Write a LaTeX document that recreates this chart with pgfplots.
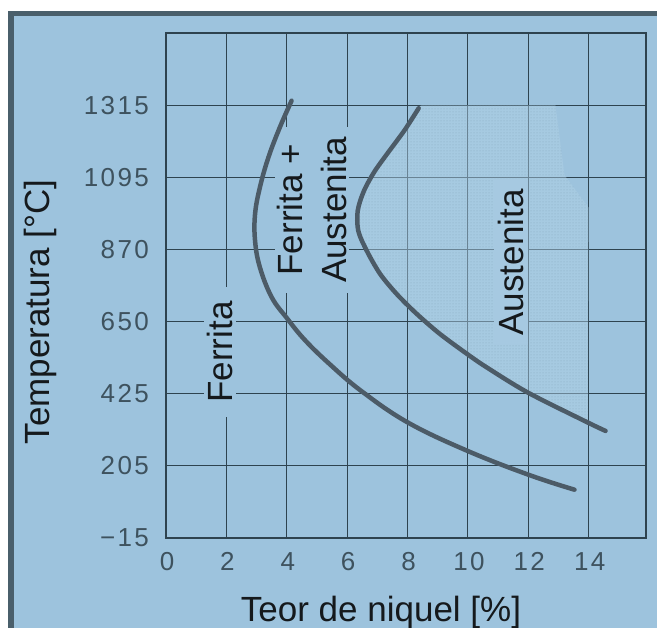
\documentclass[border=0pt]{standalone}
\usepackage{fontspec}
\setmainfont{Liberation Sans}
\newfontfamily\tickfont[LetterSpace=9]{Liberation Sans}
\usepackage{pgfplots}
\pgfplotsset{compat=1.18}
\usetikzlibrary{patterns}

\definecolor{bgblue}{HTML}{9DC3DD}
\definecolor{framegray}{HTML}{4A5F6B}
\definecolor{gridcol}{HTML}{2E434F}
\definecolor{curvecol}{HTML}{4C5B67}
\definecolor{shadecol}{HTML}{B2D3E8}
\definecolor{shadelab}{HTML}{A6C9E1}
\definecolor{dotcol}{HTML}{6F8EA3}
\definecolor{tickcol}{HTML}{3E525E}
\definecolor{textcol}{HTML}{15191C}

\newcommand\labelfont{\fontsize{35}{44}\selectfont}

% Austenite field: bounded by the austenite line on the left, 14 % Ni on the right
\pgfplotstableread{
x     y
8.37  1306
7.90  1238
7.36  1170
6.90  1110
6.55  1050
6.35  990
6.37  928
6.65  867
7.09  796
7.64  734
8.30  673
9.07  611
9.96  550
10.62 508
11.99 430
13.97 338
14.00 1000
13.20 1100
12.90 1315
8.45  1315
}\austfield

% Ferrite / ferrite+austenite boundary
\pgfplotstableread{
x     y
4.16  1329
3.77  1247
3.39  1154
3.11  1062
2.95  980
2.95  898
3.11  816
3.50  724
4.00  660
4.60  592
5.43  517
6.47  435
8.01  338
10.00 250
12.04 176
13.53 131
}\ferline

% Ferrite+austenite / austenite boundary
\pgfplotstableread{
x     y
8.37  1306
7.90  1238
7.36  1170
6.90  1110
6.55  1050
6.35  990
6.37  928
6.65  867
7.09  796
7.64  734
8.30  673
9.07  611
9.96  550
10.62 508
11.99 430
13.97 338
14.56 312
}\ausline

\begin{document}
\begin{tikzpicture}
\useasboundingbox (0pt,0pt) rectangle (657pt,628pt);
\fill[white] (0pt,0pt) rectangle (657pt,628pt);
\fill[framegray] (8pt,0pt) rectangle (657pt,616.5pt);
\fill[bgblue] (13.5pt,0pt) rectangle (657pt,612pt);
\begin{axis}[
  at={(166pt,90pt)}, anchor=south west,
  width=480pt, height=505pt, scale only axis,
  xmin=0, xmax=15.9, ymin=-17.8, ymax=1537.8,
  xtick={0,2,4,6,8,10,12,14},
  xticklabels={0,2,4,6,8,10,12,14},
  ytick={-17.8,204.4,426.7,648.9,871.1,1093.3,1315.6},
  yticklabels={−15,205,425,650,870,1095,1315},
  major tick length=0pt,
  grid=major,
  grid style={gridcol, line width=1.1pt},
  axis line style={gridcol, line width=2pt},
  ticklabel style={font=\tickfont\fontsize{26}{30}\selectfont, text=tickcol},
  yticklabel style={anchor=east, inner sep=0pt, xshift=-17pt},
  xticklabel style={anchor=north, inner sep=0pt, yshift=-14pt, xshift=1pt},
  xlabel={Teor de niquel [\%]},
  ylabel={Temperatura [°C]},
  label style={font=\labelfont, text=textcol},
  xlabel style={at={(axis description cs:0.448,-0.166)}, anchor=base},
  ylabel style={at={(axis description cs:-0.2625,0.4475)}, anchor=center},
]
\addplot[draw=none, fill=shadecol, fill opacity=0.45] table[x=x, y=y] {\austfield} -- cycle;
\addplot[draw=none, pattern=dots, pattern color=dotcol, fill opacity=0.55] table[x=x, y=y] {\austfield} -- cycle;

\node[rotate=90, font=\labelfont, text=textcol, fill=bgblue,
      inner xsep=14pt, inner ysep=3pt] at (axis cs:1.79,555) {Ferrita};
\node[rotate=90, font=\labelfont, text=textcol, fill=bgblue, align=center,
      inner xsep=10pt, inner ysep=2pt] at (axis cs:4.83,993) {Ferrita +\\Austenita};
\node[rotate=90, font=\labelfont, text=textcol, fill=shadelab,
      inner xsep=10pt, inner ysep=4pt] at (axis cs:11.42,831) {Austenita};

\addplot[curvecol, line width=4.5pt, smooth, tension=0.65, line cap=round] table[x=x, y=y] {\ferline};
\addplot[curvecol, line width=4.5pt, smooth, line cap=round] table[x=x, y=y] {\ausline};
\end{axis}
\end{tikzpicture}
\end{document}
